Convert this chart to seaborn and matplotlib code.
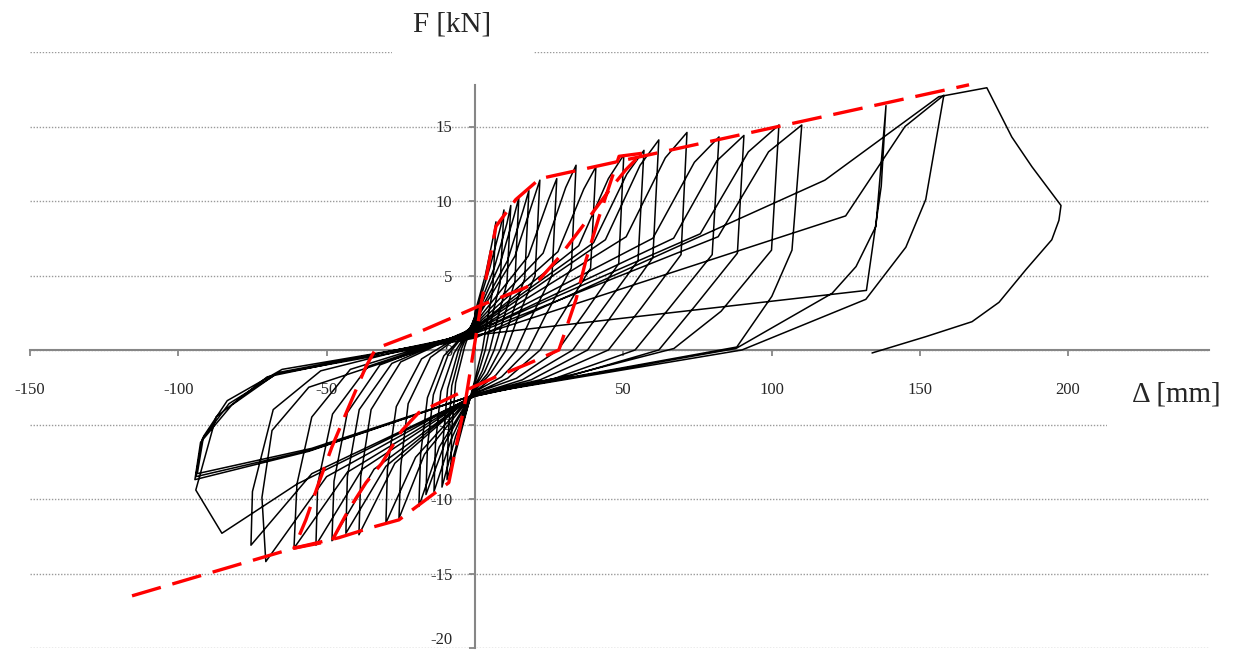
import matplotlib
matplotlib.use("Agg")
import matplotlib.pyplot as plt
import seaborn as sns
import pandas as pd
from matplotlib.patches import Rectangle

# ---------------- data (displacement in mm, force in kN) ----------------
# positive half-cycles
pos_cross_y = [2.5, 2.3, 2.2, 2.1, 2.0, 1.9, 1.8, 1.7, 1.6, 1.5,
               1.5, 1.4, 1.3, 1.3, 1.2, 1.2, 1.1, 1.0, 0.9, 0.8]
pos_knee_x = [3.5, 5.0, 6.5, 8.5, 11.0, 13.5, 18.0, 23.0, 28.0, 35.0,
              40.0, 44.0, 51.0, 60.0, 67.0, 76.0, 82.0, 132.0, 125.0, 118.0]
pos_knee_y = [5.0, 5.5, 5.5, 5.8, 6.0, 6.3, 6.3, 6.5, 6.6, 7.0,
              7.2, 7.4, 7.6, 7.5, 7.5, 7.8, 7.6, 4.0, 9.0, 11.4]
pos_knee2_x = [6.2, 8.7, 10.8, 13.2, 16.3, 19.6, 24.8, 30.6, 36.7, 45.0,
               51.2, 55.7, 64.2, 74.0, 81.6, 92.2, 99.0, 137.0, 145.0, 156.4]
pos_knee2_y = [7.6, 8.3, 8.5, 9.0, 9.4, 10.0, 10.1, 10.9, 10.8, 11.5,
               11.8, 12.4, 12.9, 12.6, 12.7, 13.3, 13.3, 11.0, 15.0, 17.0]
pos_peak_x = [7.1, 9.8, 12.1, 14.8, 18.2, 21.9, 27.6, 34.1, 40.8, 50.2,
              57.0, 62.0, 71.5, 82.3, 90.7, 102.5, 110.2, 138.6, 158.1, 172.6]
pos_peak_y = [8.6, 9.4, 9.7, 10.2, 10.7, 11.4, 11.5, 12.4, 12.3, 13.1,
              13.4, 14.1, 14.6, 14.3, 14.4, 15.1, 15.1, 16.4, 17.1, 17.6]
pos_unload_x = [6.0, 8.5, 10.8, 13.5, 16.8, 20.3, 26.0, 32.5, 39.0, 48.5,
                55.0, 60.0, 69.5, 80.0, 88.5, 100.0, 106.9, 135.2, 152.0]
pos_unload_y = [4.0, 4.5, 4.5, 4.6, 4.8, 5.0, 5.0, 5.5, 5.5, 5.8,
                6.0, 6.2, 6.4, 6.4, 6.5, 6.7, 6.7, 8.3, 10.1]
pos_unload2_x = [4.0, 5.5, 7.5, 9.5, 12.0, 14.5, 19.0, 24.0, 29.5, 37.0,
                 42.5, 47.5, 56.0, 65.5, 74.0, 83.0, 100.1, 128.5, 145.3]
pos_unload2_y = [1.8, 2.0, 2.0, 2.0, 2.1, 2.2, 2.2, 2.4, 2.4, 2.5,
                 2.6, 2.7, 2.8, 2.8, 2.9, 2.6, 3.6, 5.6, 6.9]
pos_resid_x = [2.5, 3.5, 5.0, 6.5, 8.5, 10.5, 14.0, 18.0, 22.0, 28.0,
               33.0, 38.0, 45.0, 54.0, 62.0, 67.1, 88.3, 120.4, 131.8]
pos_resid_y = [0.0, 0.0, 0.0, 0.0, 0.0, 0.0, 0.0, 0.0, 0.0, 0.0,
               0.0, 0.0, 0.0, 0.0, 0.0, 0.1, 0.2, 3.8, 3.4]
pos_lower_x = [1.2, 1.7, 2.5, 3.2, 4.2, 5.2, 7.0, 9.0, 11.0, 14.0,
               16.0, 19.0, 22.0, 27.0, 31.0, 34.0, 44.0, 88.0, 90.0]
pos_lower_y = [-1.0, -1.2, -1.4, -1.5, -1.6, -1.6, -1.7, -1.8, -1.9, -1.9,
               -2.0, -2.0, -2.0, -1.9, -1.8, -1.6, -1.4, 0.1, 0.0]

# negative half-cycles
neg_cross_y = [-2.0, -2.2, -2.4, -2.5, -2.6, -2.7, -2.8, -2.8, -2.9, -2.9,
               -3.0, -3.0, -3.0, -3.0, -3.1, -3.1, -3.0, -3.0, -3.0]
neg_knee_x = [-4.0, -5.0, -6.5, -8.0, -10.0, -12.0, -17.0, -20.0, -27.0, -30.0,
              -34.0, -38.0, -43.0, -50.0, -55.0, -60.0, -55.0, -55.0, -56.0]
neg_knee_y = [-5.0, -5.5, -5.8, -6.0, -6.2, -6.5, -7.0, -7.2, -7.6, -7.8,
              -8.0, -8.0, -8.2, -8.5, -8.3, -9.0, -6.7, -6.6, -6.8]
neg_peak_x = [-8.1, -9.4, -11.1, -13.8, -16.5, -18.9, -25.6, -30.0, -39.1, -43.5,
              -48.2, -53.6, -61.0, -70.5, -75.5, -85.3, -94.1, -93.6, -94.4]
neg_peak_y = [-8.1, -8.7, -9.2, -9.5, -9.7, -10.5, -11.3, -11.6, -12.4, -12.3,
              -12.8, -13.1, -13.3, -14.2, -13.1, -12.3, -8.5, -8.3, -8.7]
neg_unload_x = [[-7.8, -6.5, -3.5], [-9.0, -7.8, -4.5], [-10.7, -9.2, -5.5],
                [-13.3, -11.5, -7.0], [-16.0, -14.0, -9.0], [-18.3, -16.0, -10.5],
                [-25.0, -22.5, -15.0], [-29.5, -26.5, -18.0], [-38.5, -35.0, -25.0],
                [-43.0, -39.0, -28.0], [-47.5, -43.0, -32.0], [-53.0, -48.0, -36.0],
                [-60.0, -55.0, -42.0], [-71.8, -68.4, -56.0], [-75.0, -68.0, -52.0],
                [-94.1, -87.3, -70.0], [-92.0, -82.9, -66.0], [-91.5, -83.5, -65.0],
                [-92.5, -82.0, -67.0]]
neg_unload_y = [[-5.3, -2.2, 0.2], [-5.7, -2.4, 0.1], [-6.0, -2.6, 0.0],
                [-6.3, -2.8, -0.2], [-6.5, -3.0, -0.3], [-7.0, -3.2, -0.4],
                [-7.8, -3.6, -0.5], [-8.0, -3.8, -0.6], [-8.5, -4.0, -0.8],
                [-8.5, -4.0, -0.9], [-8.8, -4.2, -1.0], [-9.0, -4.3, -1.1],
                [-9.0, -4.5, -1.3], [-9.9, -5.4, -2.5], [-9.5, -4.0, -1.4],
                [-9.4, -4.5, -1.8], [-6.0, -3.6, -1.5], [-5.8, -3.4, -1.3],
                [-6.2, -3.7, -1.6]]

# last excursion after the final peak (failure branch)
final_x = [181.0, 187.8, 197.6, 196.9, 194.5, 185.8, 176.7, 167.6, 152.1, 133.9]
final_y = [14.3, 12.3, 9.7, 8.7, 7.4, 5.4, 3.2, 1.9, 0.9, -0.2]

# envelope (red dashed)
env_x = [-115.6, -61.0, -45.9, -34.7, -25.6, -18.9, -8.8, -3.0, 2.0, 7.1, 13.8, 21.9, 166.6]
env_y = [-16.5, -13.3, -12.6, -11.9, -11.4, -10.4, -8.9, -3.2, 3.0, 8.3, 10.1, 11.5, 17.8]

# idealised cycle (red dashed)
model_x = [56.3, 48.6, 41.8, 37.4, 34.1, 28.3, 18.2, 7.1, -6.4, -18.9, -24.6, -31.4,
           -36.7, -42.5, -48.2, -61.0, -57.0, -52.6, -48.2, -42.5, -36.7, -33.4,
           -18.9, 2.0, 17.2, 21.6, 28.3, 37.4, 45.2, 50.9, 56.3]
model_y = [13.2, 13.0, 8.9, 6.0, 3.4, 0.0, -0.9, -1.8, -3.0, -4.2, -5.4, -7.6,
           -8.9, -10.7, -12.8, -13.3, -11.4, -8.9, -6.5, -3.8, -1.1, 0.1,
           1.2, 3.0, 4.2, 4.7, 6.2, 8.6, 10.7, 12.1, 13.2]

x_ticks = [-150, -100, -50, 50, 100, 150, 200]
y_ticks = [-20, -15, -10, -5, 0, 5, 10, 15, 20]

# ---------------- build the load path ----------------
xs, ys = [0.0], [0.0]
for i in range(len(pos_peak_x)):
    xs += [0.0, pos_knee_x[i], pos_knee2_x[i], pos_peak_x[i]]
    ys += [pos_cross_y[i], pos_knee_y[i], pos_knee2_y[i], pos_peak_y[i]]
    if i < len(neg_peak_x):
        xs += [pos_unload_x[i], pos_unload2_x[i], pos_resid_x[i], pos_lower_x[i], 0.0,
               neg_knee_x[i], neg_peak_x[i]] + neg_unload_x[i]
        ys += [pos_unload_y[i], pos_unload2_y[i], pos_resid_y[i], pos_lower_y[i],
               neg_cross_y[i], neg_knee_y[i], neg_peak_y[i]] + neg_unload_y[i]
xs += final_x
ys += final_y
hyst = pd.DataFrame({"disp": xs, "force": ys})

# ---------------- plot ----------------
sns.set_style("white")
plt.rcParams["font.family"] = ["Liberation Serif", "DejaVu Serif"]

W, H = 1237, 655
fig = plt.figure(figsize=(W / 100, H / 100), dpi=100)
ax = fig.add_axes([30 / W, (H - 648) / H, (1209 - 30) / W, (648 - 52) / H])

grey = "#868686"
ax.set_xlim(-150, 247.5)
ax.set_ylim(-20, 20)
ax.yaxis.grid(True, linestyle=(0, (1, 1.2)), color="#9a9a9a", lw=1.0)
ax.xaxis.grid(False)

sns.lineplot(data=hyst, x="disp", y="force", sort=False, estimator=None,
             color="black", lw=1.1, ax=ax, zorder=3)
sns.lineplot(x=model_x, y=model_y, sort=False, estimator=None, color="red",
             lw=2.4, ax=ax, zorder=4)
sns.lineplot(x=env_x, y=env_y, sort=False, estimator=None, color="red",
             lw=2.4, ax=ax, zorder=4)
for ln in ax.lines[-2:]:
    ln.set_dashes((9, 3.6))

for s in ["top", "right"]:
    ax.spines[s].set_visible(False)
ax.spines["left"].set_position(("data", 0))
ax.spines["bottom"].set_position(("data", 0))
ax.spines["left"].set_bounds(-20, 17.8)
for s in ["left", "bottom"]:
    ax.spines[s].set_color(grey)
    ax.spines[s].set_linewidth(1.5)
    ax.spines[s].set_zorder(2.6)

ax.set_xticks(x_ticks)
ax.set_xticklabels([str(v) for v in x_ticks])
ax.set_yticks(y_ticks)
ax.set_yticklabels([str(v) for v in y_ticks])
ax.tick_params(axis="x", direction="out", length=4.3, width=1.3, color=grey,
               pad=19, labelsize=12, bottom=True)
ax.tick_params(axis="y", direction="out", length=4.3, width=1.3, color=grey,
               pad=12, labelsize=12, left=True)
# lowest label sits on the bottom edge; lift it so it stays inside the image
ax.get_yticklabels()[0].set_verticalalignment("bottom")
ax.set_xlabel("")
ax.set_ylabel("")

# axis titles on white boxes (they mask the gridlines behind them)
fig.patches.append(Rectangle((392 / W, 1 - 62 / H), 141 / W, 62 / H,
                             transform=fig.transFigure, facecolor="white",
                             edgecolor="none", zorder=5))
fig.text(452 / W, 1 - 25 / H, "F [kN]", ha="center", va="center",
         fontsize=21, zorder=6)
fig.patches.append(Rectangle((1107 / W, 1 - 440 / H), 130 / W, 80 / H,
                             transform=fig.transFigure, facecolor="white",
                             edgecolor="none", zorder=5))
fig.text(1176 / W, 1 - 395 / H, "\u0394 [mm]", ha="center", va="center",
         fontsize=21, zorder=6)

fig.savefig("out.png", dpi=100)
